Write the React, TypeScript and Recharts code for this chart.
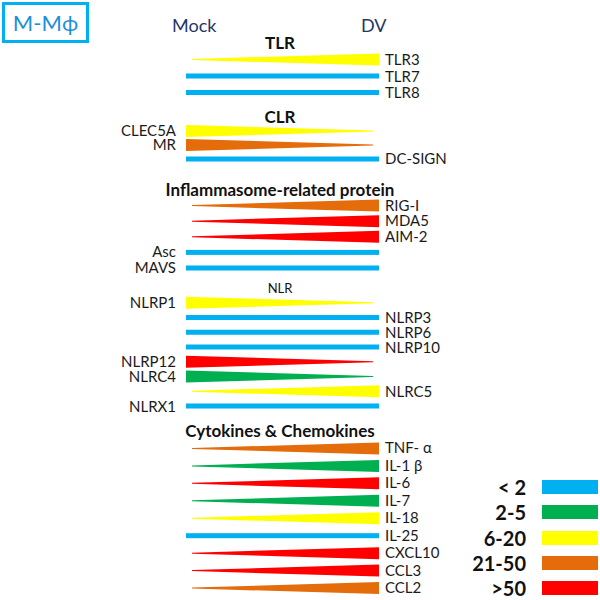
import { BarChart, Bar, XAxis, YAxis } from "recharts";

const FONT = "Lato, 'Noto Sans', sans-serif";

// fold-change classes and their colours
const foldLevels = ["< 2", "2-5", "6-20", "21-50", ">50"];
const foldColors = ["#00b0f0", "#00b050", "#ffff00", "#e46c0a", "#ff0000"];

type Trend = "up" | "down" | "flat";
type Row = {
  name: string;
  fold?: string;
  trend?: Trend;
  side?: "left" | "right";
  header?: "bold" | "plain";
  span?: number;
};

const head = (name: string, header: "bold" | "plain" = "bold"): Row => ({ name, header });
const gene = (name: string, fold: string, trend: Trend, side?: "left" | "right"): Row => ({
  name,
  fold,
  trend,
  side: side ?? (trend === "down" ? "left" : "right"),
  span: 1,
});

const tlrRows = [
  head("TLR"),
  gene("TLR3", "6-20", "up"),
  gene("TLR7", "< 2", "flat"),
  gene("TLR8", "< 2", "flat"),
];

const clrRows = [
  head("CLR"),
  gene("CLEC5A", "6-20", "down"),
  gene("MR", "21-50", "down"),
  gene("DC-SIGN", "< 2", "flat"),
];

const inflammasomeRows = [
  head("Inflammasome-related protein"),
  gene("RIG-I", "21-50", "up"),
  gene("MDA5", ">50", "up"),
  gene("AIM-2", ">50", "up"),
  gene("Asc", "< 2", "flat", "left"),
  gene("MAVS", "< 2", "flat", "left"),
];

const nlrRows = [
  head("NLR", "plain"),
  gene("NLRP1", "6-20", "down"),
  gene("NLRP3", "< 2", "flat"),
  gene("NLRP6", "< 2", "flat"),
  gene("NLRP10", "< 2", "flat"),
  gene("NLRP12", ">50", "down"),
  gene("NLRC4", "2-5", "down"),
  gene("NLRC5", "6-20", "up"),
  gene("NLRX1", "< 2", "flat", "left"),
];

const cytokineRows = [
  head("Cytokines & Chemokines"),
  gene("TNF- α", "21-50", "up"),
  gene("IL-1 β", "2-5", "up"),
  gene("IL-6", ">50", "up"),
  gene("IL-7", "2-5", "up"),
  gene("IL-18", "6-20", "up"),
  gene("IL-25", "< 2", "flat"),
  gene("CXCL10", ">50", "up"),
  gene("CCL3", ">50", "up"),
  gene("CCL2", "21-50", "up"),
];

const BAR_LEFT = 186;
const BAR_RIGHT = 379;
const PAD = 12;

const sections = [
  { rows: tlrRows, first: 43, gap: 16.5 },
  { rows: clrRows, first: 117, gap: 14 },
  { rows: inflammasomeRows, first: 190, gap: 15.6 },
  { rows: nlrRows, first: 288, gap: 14.75 },
  { rows: cytokineRows, first: 431, gap: 17.45 },
];

function Wedge(p: any) {
  const r: Row = p.payload;
  if (!r || !r.fold) return <g />;
  const color = foldColors[foldLevels.indexOf(r.fold)];
  const cy = p.y + p.height / 2;
  const x0 = p.x;
  const x1 = p.x + p.width;
  if (r.trend === "flat") {
    return <rect x={x0} y={cy - 2.5} width={p.width} height={5} fill={color} />;
  }
  const h = p.height / 2;
  const pts =
    r.trend === "up"
      ? [[x0 + 6, cy - 0.5], [x1, cy - h], [x1, cy + h], [x0 + 6, cy + 0.5]]
      : [[x0, cy - h], [x1 - 6, cy - 0.5], [x1 - 6, cy + 0.5], [x0, cy + h]];
  return <polygon points={pts.map((q) => q.join(",")).join(" ")} fill={color} />;
}

function Section({ rows, first, gap }: { rows: Row[]; first: number; gap: number }) {
  const height = rows.length * gap + 2 * PAD;
  const tick = (p: any) => {
    const r = rows.find((d) => d.name === p.payload.value);
    if (!r) return <g />;
    if (r.header) {
      return (
        <text x={280} y={p.y} dy="0.35em" textAnchor="middle" fontFamily={FONT}
          fontSize={r.header === "bold" ? 17 : 13} fontWeight={r.header === "bold" ? 700 : 400} fill="#111">
          {r.name}
        </text>
      );
    }
    const right = r.side === "right";
    return (
      <text x={right ? BAR_RIGHT + 6 : BAR_LEFT - 10} y={p.y} dy="0.35em" textAnchor={right ? "start" : "end"}
        fontFamily={FONT} fontSize={15} fill="#1a1a1a">
        {r.name}
      </text>
    );
  };
  return (
    <div style={{ position: "absolute", left: 0, top: first - gap / 2 - PAD }}>
      <BarChart layout="vertical" width={600} height={height} data={rows}
        margin={{ top: PAD, right: 600 - BAR_RIGHT, bottom: PAD, left: BAR_LEFT - 1 }} barCategoryGap={0}>
        <XAxis type="number" domain={[0, 1]} hide />
        <YAxis type="category" dataKey="name" width={1} axisLine={false} tickLine={false} interval={0} tick={tick} />
        <Bar dataKey="span" barSize={12} shape={Wedge} isAnimationActive={false} />
      </BarChart>
    </div>
  );
}

export default function App() {
  return (
    <div style={{ position: "fixed", left: 0, top: 0, width: 600, height: 600, background: "#fff", fontFamily: FONT, overflow: "hidden" }}>
      <div style={{ position: "absolute", left: 2, top: 2, width: 87, height: 41, boxSizing: "border-box",
        border: "3px solid #00b0f0", color: "#1e90d8", fontSize: 22, display: "flex", alignItems: "center", justifyContent: "center" }}>
        M-Mϕ
      </div>
      <div style={{ position: "absolute", left: 172, top: 14, fontSize: 18, color: "#1f3864" }}>Mock</div>
      <div style={{ position: "absolute", left: 361, top: 14, fontSize: 18, color: "#1f3864" }}>DV</div>
      {sections.map((s, i) => (
        <Section key={i} rows={s.rows} first={s.first} gap={s.gap} />
      ))}
      {foldLevels.map((lvl, i) => (
        <div key={lvl} style={{ position: "absolute", left: 420, top: 487 + i * 25.3 - 10, width: 180, height: 20 }}>
          <div style={{ position: "absolute", right: 180 - 106, top: 0, lineHeight: "20px", fontSize: 20, fontWeight: 700, color: "#111", whiteSpace: "nowrap" }}>
            {lvl}
          </div>
          <div style={{ position: "absolute", left: 122, top: 3, width: 56, height: 14, background: foldColors[i] }} />
        </div>
      ))}
    </div>
  );
}
